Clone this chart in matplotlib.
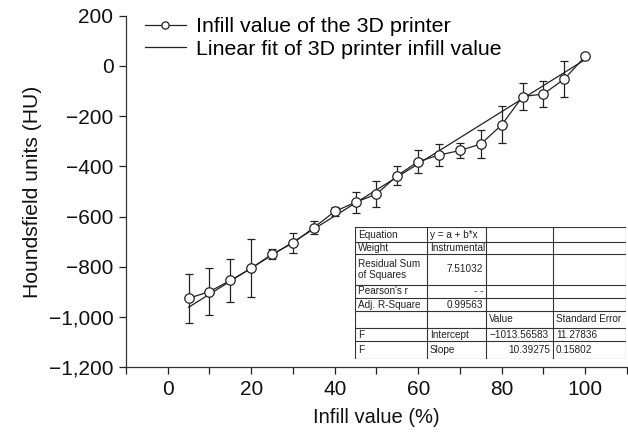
import matplotlib
matplotlib.use("Agg")
import matplotlib.pyplot as plt
from matplotlib.ticker import FuncFormatter, MultipleLocator
from matplotlib.lines import Line2D
import numpy as np

plt.rcParams['font.family'] = ['Liberation Sans', 'DejaVu Sans']

# Datos
infill = [5, 10, 15, 20, 25, 30, 35, 40, 45, 50,
          55, 60, 65, 70, 75, 80, 85, 90, 95, 100]
hu = [-926, -899, -855, -806, -750, -706, -644, -580, -543, -511,
      -437, -381, -355, -337, -311, -235, -122, -112, -52, 38]
hu_err = [97, 95, 85, 115, 20, 40, 25, 17, 42, 52,
          38, 47, 45, 30, 56, 74, 53, 50, 70, 8]

fit_intercept = -1013.56583
fit_slope = 10.39275

etiquetas = ["Infill value of the 3D printer", "Linear fit of 3D printer infill value"]

# Tabla de ajuste
tabla = [
    ["Equation", "y = a + b*x", "", ""],
    ["Weight", "Instrumental", "", ""],
    ["Residual Sum\nof Squares", "7.51032", "", ""],
    ["Pearson's r", "- -", "", ""],
    ["Adj. R-Square", "0.99563", "", ""],
    ["", "", "Value", "Standard Error"],
    ["F", "Intercept", "\u22121013.56583", "11.27836"],
    ["F", "Slope", "10.39275", "0.15802"],
]
alineacion = [
    ["l", "l", "l", "l"],
    ["l", "l", "l", "l"],
    ["l", "r", "l", "l"],
    ["l", "r", "l", "l"],
    ["l", "r", "l", "l"],
    ["l", "l", "l", "l"],
    ["l", "l", "l", "l"],
    ["l", "l", "r", "l"],
]
altos_filas = [15, 12, 31, 13, 13, 17, 13, 18]
anchos_cols = [72, 59, 67, 73]

color = '#222222'

fig = plt.figure(figsize=(6.28, 4.37), dpi=100)
ax = fig.add_axes([0.2006, 0.160, 0.7978, 0.804])

ax.errorbar(infill, hu, yerr=hu_err, color=color, lw=0.9, elinewidth=0.9,
            capsize=2.6, capthick=0.9, marker='o', markersize=6.8,
            markerfacecolor='white', markeredgecolor=color, markeredgewidth=0.9,
            zorder=3)
x_fit = np.array([infill[0], infill[-1]])
ax.plot(x_fit, fit_intercept + fit_slope * x_fit, color=color, lw=0.9, zorder=2)

ax.set_xlim(-10, 110)
ax.set_ylim(-1200, 200)
ax.xaxis.set_major_locator(MultipleLocator(20))
ax.xaxis.set_minor_locator(MultipleLocator(10))
ax.yaxis.set_major_locator(MultipleLocator(200))
ax.yaxis.set_major_formatter(FuncFormatter(lambda v, p: f"{v:,.0f}".replace("-", "\u2212")))
ax.tick_params(which='both', direction='out', length=5, width=0.9, color=color,
               labelsize=15, labelcolor='#111111', pad=4)
for s in ['top', 'right']:
    ax.spines[s].set_visible(False)
for s in ['left', 'bottom']:
    ax.spines[s].set_color('#333333')
    ax.spines[s].set_linewidth(0.9)

ax.set_xlabel("Infill value (%)", fontsize=14.5, color='#111111', labelpad=7)
ax.set_ylabel("Houndsfield units (HU)", fontsize=15.2, color='#111111', labelpad=5)

handles = [
    Line2D([], [], color=color, lw=0.9, marker='o', markersize=5.2,
           markerfacecolor='white', markeredgecolor=color, markeredgewidth=0.9),
    Line2D([], [], color=color, lw=0.9),
]
ax.legend(handles, etiquetas, loc='upper left', bbox_to_anchor=(0.02, 1.02),
          frameon=False, fontsize=15.4, handlelength=1.95, handletextpad=0.45,
          labelspacing=0.16, borderaxespad=0)

# Tabla dibujada en unos ejes propios (coordenadas en pixeles de la tabla)
ancho_total = sum(anchos_cols)
alto_total = sum(altos_filas)
tax = fig.add_axes([355 / 628, 1 - 359 / 437, ancho_total / 628, alto_total / 437])
tax.set_xlim(0, ancho_total)
tax.set_ylim(alto_total, 0)
tax.axis('off')
tax.add_patch(plt.Rectangle((0, 0), ancho_total, alto_total, facecolor='white',
                            edgecolor='none', zorder=0))
bordes_x = np.concatenate([[0], np.cumsum(anchos_cols)])
bordes_y = np.concatenate([[0], np.cumsum(altos_filas)])
for bx in bordes_x:
    tax.plot([bx, bx], [0, alto_total], color='#333333', lw=0.8)
for by in bordes_y:
    tax.plot([0, ancho_total], [by, by], color='#333333', lw=0.8)
for i, fila in enumerate(tabla):
    for j, texto in enumerate(fila):
        if not texto:
            continue
        yc = (bordes_y[i] + bordes_y[i + 1]) / 2
        if alineacion[i][j] == 'l':
            tax.text(bordes_x[j] + 3, yc, texto, ha='left', va='center',
                     fontsize=7.2, color='#222222', linespacing=1.15)
        else:
            tax.text(bordes_x[j + 1] - 3, yc, texto, ha='right', va='center',
                     fontsize=7.2, color='#222222', linespacing=1.15)

fig.savefig("out.png", dpi=100)
